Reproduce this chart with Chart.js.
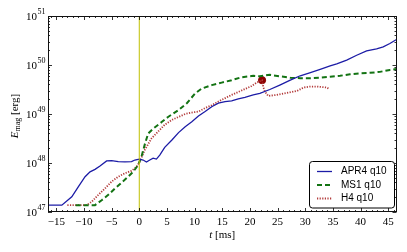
<!DOCTYPE html>
<html>
<head>
<meta charset="utf-8">
<script src="https://cdn.jsdelivr.net/npm/chart.js@4/dist/chart.umd.min.js"></script>
<style>
html,body{margin:0;padding:0;background:#fff;}
#c{display:block;}
</style>
</head>
<body>
<canvas id="c" width="407" height="252"></canvas>
<script>
// ---- data ----
const seriesNames = ["APR4 q10", "MS1 q10", "H4 q10"];

const tAPR4 = [-16.5,-14.0,-12.2,-11.0,-9.8,-8.9,-8.0,-7.1,-5.9,-5.0,-3.8,-2.6,-1.4,-0.8,0.0,0.7,1.3,1.9,2.5,3.1,3.7,4.6,5.9,7.1,8.3,9.5,10.7,11.9,13.1,14.3,15.5,16.7,17.9,19.1,20.6,21.8,23.6,25.4,27.3,29.1,30.8,32.7,34.5,35.7,37.5,39.3,41.1,42.9,44.1,45.3,46.5];
const eAPR4 = [1.38e47,1.38e47,2.04e47,3.31e47,5.25e47,6.61e47,7.41e47,8.71e47,1.10e48,1.12e48,1.07e48,1.05e48,1.07e48,1.15e48,1.20e48,1.15e48,1.05e48,1.15e48,1.26e48,1.20e48,1.45e48,2.09e48,2.95e48,4.17e48,5.50e48,6.92e48,9.12e48,1.12e49,1.41e49,1.66e49,1.78e49,1.86e49,2.04e49,2.19e49,2.45e49,2.63e49,3.16e49,3.89e49,4.90e49,6.03e49,6.92e49,8.13e49,9.55e49,1.05e50,1.26e50,1.58e50,1.95e50,2.14e50,2.34e50,2.75e50,3.31e50];

const tMS1 = [-11.5,-8.0,-6.8,-5.6,-4.4,-3.2,-2.0,-1.1,-0.2,0.4,1.0,1.6,2.5,4.1,5.2,7.1,8.6,10.1,11.3,13.1,14.9,16.7,18.5,20.6,21.8,23.6,25.4,27.3,29.1,30.8,32.7,34.5,36.3,38.1,39.9,41.7,43.5,45.3,46.5];
const eMS1 = [1.38e47,1.38e47,1.74e47,2.24e47,3.02e47,3.98e47,5.25e47,6.61e47,9.12e47,1.35e48,2.40e48,3.98e48,5.01e48,6.92e48,8.71e48,1.20e49,1.66e49,2.63e49,3.31e49,3.89e49,4.37e49,4.90e49,5.62e49,6.03e49,5.89e49,6.31e49,5.89e49,5.50e49,5.37e49,5.37e49,5.50e49,5.75e49,6.03e49,6.46e49,6.76e49,6.92e49,7.24e49,7.94e49,8.32e49];

const tH4 = [-13.0,-9.5,-8.6,-7.4,-6.2,-5.0,-3.8,-2.6,-1.4,-0.5,0.1,1.0,2.2,3.4,4.6,5.9,7.1,8.3,9.5,10.7,11.9,13.1,14.9,16.7,18.5,20.3,21.2,22.2,22.4,22.7,23.3,24.8,26.7,28.5,29.7,30.9,32.1,33.9,34.2];
const eH4 = [1.38e47,1.38e47,1.62e47,2.24e47,3.02e47,4.17e47,5.25e47,6.17e47,6.92e47,8.32e47,1.07e48,1.86e48,3.16e48,4.37e48,6.03e48,7.59e48,8.71e48,1.00e49,1.07e49,1.12e49,1.32e49,1.51e49,1.95e49,2.45e49,3.02e49,3.72e49,4.37e49,4.90e49,3.63e49,2.88e49,2.34e49,2.45e49,2.69e49,2.95e49,3.47e49,3.63e49,3.63e49,3.47e49,3.31e49];

const markerT = [22.2];
const markerE = [4.9e49];

const mergerT = 0;                 // vertical line at t = 0
const xRange = [-16.5, 46.5];
const yRange = [1e47, 1e51];
const xMajorTicks = [-15,-10,-5,0,5,10,15,20,25,30,35,40,45];
const yMajorExponents = [47,48,49,50,51];

// ---- helpers ----
const pts = (xs, ys) => xs.map((x, i) => ({x: x, y: ys[i]}));
const fmtX = v => (v < 0 ? '\u2212' + Math.abs(v) : String(v));

const colors = { apr4: '#1c1ca6', ms1: '#137313', h4: '#b23a3a', marker: '#8b0000', vline: '#c0c000' };
const SERIF = '"Liberation Serif", "DejaVu Serif", serif';
const SANS = '"Liberation Sans", "DejaVu Sans", sans-serif';

const decorPlugin = {
  id: 'decor',
  afterDraw(chart) {
    const ctx = chart.ctx;
    const xs = chart.scales.x, ys = chart.scales.y;
    const a = chart.chartArea;
    ctx.save();
    // ticks (inward, all four sides)
    ctx.strokeStyle = '#000';
    ctx.lineWidth = 0.8;
    ctx.beginPath();
    for (let v = Math.ceil(xRange[0]); v <= xRange[1]; v++) {
      const px = Math.round(xs.getPixelForValue(v)) + 0.5;
      const L = (v % 5 === 0) ? 4 : 2;
      ctx.moveTo(px, a.bottom); ctx.lineTo(px, a.bottom - L);
      ctx.moveTo(px, a.top); ctx.lineTo(px, a.top + L);
    }
    for (let e = yMajorExponents[0]; e <= yMajorExponents[yMajorExponents.length-1]; e++) {
      for (let k = 1; k <= 9; k++) {
        const val = k * Math.pow(10, e);
        if (val < yRange[0] || val > yRange[1]) continue;
        const py = Math.round(ys.getPixelForValue(val)) + 0.5;
        const L = (k === 1) ? 4 : 2;
        ctx.moveTo(a.left, py); ctx.lineTo(a.left + L, py);
        ctx.moveTo(a.right, py); ctx.lineTo(a.right - L, py);
      }
    }
    ctx.stroke();
    // frame
    ctx.lineWidth = 1;
    ctx.strokeStyle = '#111';
    ctx.strokeRect(Math.round(a.left) + 0.5, Math.round(a.top) + 0.5,
                   Math.round(a.right - a.left) - 1, Math.round(a.bottom - a.top) - 1);

    // y tick labels 10^n
    ctx.fillStyle = '#000';
    yMajorExponents.forEach(e => {
      const py = ys.getPixelForValue(Math.pow(10, e));
      ctx.font = '11px ' + SERIF;
      ctx.textAlign = 'right';
      ctx.textBaseline = 'middle';
      ctx.fillText('10', 37, py + 1);
      ctx.font = '8px ' + SERIF;
      ctx.textAlign = 'left';
      ctx.fillText(String(e), 37.5, py - 4.5);
    });

    // x title: t [ms]
    ctx.textBaseline = 'middle';
    ctx.textAlign = 'left';
    ctx.font = 'italic 11px ' + SERIF;
    const wT = ctx.measureText('t').width;
    ctx.font = '11px ' + SERIF;
    const wR = ctx.measureText(' [ms]').width;
    let x0 = (a.left + a.right) / 2 - (wT + wR) / 2;
    ctx.font = 'italic 11px ' + SERIF;
    ctx.fillText('t', x0, 235);
    ctx.font = '11px ' + SERIF;
    ctx.fillText(' [ms]', x0 + wT, 235);

    // y title: E_mag [erg]
    ctx.save();
    ctx.translate(15, (a.top + a.bottom) / 2 + 2);
    ctx.rotate(-Math.PI / 2);
    ctx.font = 'italic 11px ' + SERIF;
    const wE = ctx.measureText('E').width;
    ctx.font = '8px ' + SERIF;
    const wM = ctx.measureText('mag').width;
    ctx.font = '11px ' + SERIF;
    const wB = ctx.measureText(' [erg]').width;
    let s = -(wE + wM + wB) / 2;
    ctx.font = 'italic 11px ' + SERIF;
    ctx.fillText('E', s, 0);
    ctx.font = '8px ' + SERIF;
    ctx.fillText('mag', s + wE, 3);
    ctx.font = '11px ' + SERIF;
    ctx.fillText(' [erg]', s + wE + wM, 0);
    ctx.restore();

    // legend
    const bx = 309.5, by = 161.5, bw = 85, bh = 46.5, r = 3;
    ctx.beginPath();
    ctx.moveTo(bx + r, by);
    ctx.lineTo(bx + bw - r, by); ctx.quadraticCurveTo(bx + bw, by, bx + bw, by + r);
    ctx.lineTo(bx + bw, by + bh - r); ctx.quadraticCurveTo(bx + bw, by + bh, bx + bw - r, by + bh);
    ctx.lineTo(bx + r, by + bh); ctx.quadraticCurveTo(bx, by + bh, bx, by + bh - r);
    ctx.lineTo(bx, by + r); ctx.quadraticCurveTo(bx, by, bx + r, by);
    ctx.closePath();
    ctx.fillStyle = '#fff';
    ctx.fill();
    ctx.lineWidth = 1;
    ctx.strokeStyle = '#000';
    ctx.stroke();
    const rows = [171.5, 185, 198.5];
    seriesNames.forEach((name, i) => {
      const ds = chart.data.datasets[i + 1];
      ctx.save();
      ctx.strokeStyle = ds.borderColor;
      ctx.lineWidth = ds.borderWidth;
      ctx.setLineDash(ds.borderDash || []);
      ctx.beginPath();
      ctx.moveTo(317, rows[i]); ctx.lineTo(332, rows[i]);
      ctx.stroke();
      ctx.restore();
      ctx.fillStyle = '#000';
      ctx.font = '10px ' + SANS;
      ctx.textAlign = 'left';
      ctx.textBaseline = 'middle';
      ctx.fillText(name, 341, rows[i]);
    });
    ctx.restore();
  }
};

new Chart(document.getElementById('c'), {
  type: 'line',
  data: {
    datasets: [
      { label: 'merger', data: pts([mergerT, mergerT], [yRange[0], yRange[1]]),
        borderColor: colors.vline, borderWidth: 1, pointRadius: 0 },
      { label: seriesNames[0], data: pts(tAPR4, eAPR4),
        borderColor: colors.apr4, borderWidth: 1.3, pointRadius: 0 },
      { label: seriesNames[1], data: pts(tMS1, eMS1),
        borderColor: colors.ms1, borderWidth: 2, borderDash: [5, 3], pointRadius: 0 },
      { label: seriesNames[2], data: pts(tH4, eH4),
        borderColor: colors.h4, borderWidth: 1.8, borderDash: [1.2, 1.4], pointRadius: 0 },
      { label: 'marker', type: 'scatter', data: pts(markerT, markerE),
        backgroundColor: colors.marker, borderColor: colors.marker, pointRadius: 3.6, showLine: false }
    ]
  },
  options: {
    responsive: false,
    animation: false,
    devicePixelRatio: 1,
    layout: { padding: { left: 0, right: 10.5, top: 16, bottom: 0 } },
    plugins: { legend: { display: false }, tooltip: { enabled: false } },
    elements: { line: { tension: 0, fill: false } },
    scales: {
      x: {
        type: 'linear', min: xRange[0], max: xRange[1],
        grid: { display: false }, border: { display: false },
        afterFit: s => { s.height = 40; },
        afterBuildTicks: s => { s.ticks = xMajorTicks.map(v => ({ value: v })); },
        ticks: { autoSkip: false, maxRotation: 0, padding: -4, color: '#000',
                 font: { family: SERIF, size: 11 }, callback: v => fmtX(v) }
      },
      y: {
        type: 'logarithmic', min: yRange[0], max: yRange[1],
        grid: { display: false }, border: { display: false },
        afterFit: s => { s.width = 48; },
        ticks: { display: false }
      }
    }
  },
  plugins: [decorPlugin]
});
</script>
</body>
</html>
